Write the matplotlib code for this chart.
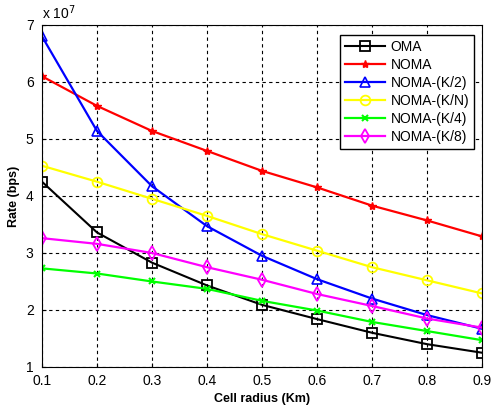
import matplotlib
matplotlib.use("Agg")
from matplotlib import pyplot as plt

plt.rcParams["font.family"] = ["Liberation Sans", "DejaVu Sans"]

# Cell radius (Km) and rates in units of 1e7 bps
radius = [0.1, 0.2, 0.3, 0.4, 0.5, 0.6, 0.7, 0.8, 0.9]
oma = [4.25, 3.36, 2.83, 2.43, 2.09, 1.84, 1.60, 1.40, 1.25]
noma = [6.10, 5.58, 5.14, 4.79, 4.44, 4.15, 3.83, 3.57, 3.29]
noma_k2 = [6.80, 5.14, 4.17, 3.47, 2.95, 2.54, 2.20, 1.91, 1.67]
noma_kn = [4.53, 4.25, 3.95, 3.65, 3.33, 3.04, 2.75, 2.52, 2.29]
noma_k4 = [2.73, 2.64, 2.50, 2.37, 2.16, 1.99, 1.79, 1.63, 1.47]
noma_k8 = [3.26, 3.16, 3.00, 2.75, 2.53, 2.28, 2.07, 1.85, 1.69]

fig = plt.figure(figsize=(4.91, 4.09), dpi=100)
ax = fig.add_axes([0.0855, 0.1027, 0.8965, 0.8363])

ax.plot(radius, oma, color="black", marker="s", mfc="none", ms=7, mew=1.3, lw=1.5, label="OMA")
ax.plot(radius, noma, color="red", marker="*", ms=6, lw=1.6, label="NOMA")
ax.plot(radius, noma_k2, color="blue", marker="^", mfc="none", ms=7, mew=1.2, lw=1.6, label="NOMA-(K/2)")
ax.plot(radius, noma_kn, color="yellow", marker="o", mfc="none", ms=7, mew=1.3, lw=1.6, label="NOMA-(K/N)")
ax.plot(radius, noma_k4, color="lime", marker="x", ms=4, mew=1.5, lw=1.6, label="NOMA-(K/4)")
ax.plot(radius, noma_k8, color="magenta", marker="d", mfc="none", ms=7, mew=1.3, lw=1.6, label="NOMA-(K/8)")

ax.set_xlim(0.1, 0.9)
ax.set_ylim(1, 7)
ax.set_xticks(radius)
ax.set_xticklabels(["0.1", "0.2", "0.3", "0.4", "0.5", "0.6", "0.7", "0.8", "0.9"])
ax.set_yticks([1, 2, 3, 4, 5, 6, 7])
ax.tick_params(labelsize=10, direction="in", length=3)
ax.tick_params(axis="x", pad=5)
ax.tick_params(axis="y", pad=6)
ax.grid(True, color="black", linestyle=(0, (3, 3)), linewidth=0.8)
ax.text(0.0, 1.01, r"x 10$^{7}$", transform=ax.transAxes, fontsize=10, va="bottom")

ax.set_xlabel("Cell radius (Km)", fontsize=9, fontweight="bold")
ax.set_ylabel("Rate (bps)", fontsize=9, fontweight="bold")

ax.legend(loc="upper right", bbox_to_anchor=(0.9977, 0.9898), fontsize=10, fancybox=False,
          edgecolor="black", framealpha=1, borderpad=0.35, labelspacing=0.28,
          handlelength=2.9, handletextpad=0.4)

fig.savefig("out.png", dpi=100)
